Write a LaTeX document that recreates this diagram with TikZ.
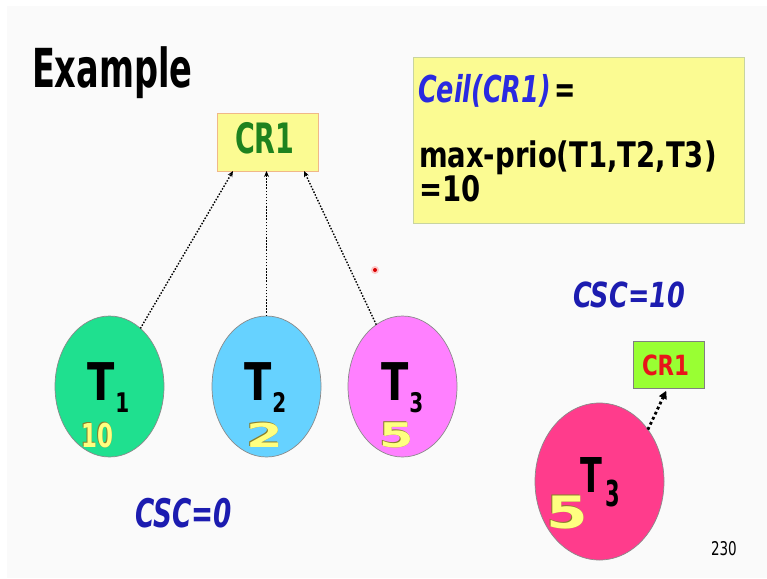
\documentclass[tikz,border=0pt]{standalone}
\usepackage{fontspec}
\setmainfont{DejaVu Sans}
\usepackage{graphicx}
\usetikzlibrary{arrows.meta,calc,shapes.geometric}
\definecolor{slidebg}{HTML}{FAFAFA}
\definecolor{boxyel}{HTML}{FBFB92}
\definecolor{boxorange}{HTML}{F0B888}
\definecolor{boxgray}{HTML}{C8D4A0}
\definecolor{boxgreen}{HTML}{99FF33}
\definecolor{crgreen}{HTML}{1E821E}
\definecolor{crred}{HTML}{E8141A}
\definecolor{ceilblue}{HTML}{2A2AE0}
\definecolor{cscblue}{HTML}{1C1CB0}
\definecolor{tonegreen}{HTML}{1FE08F}
\definecolor{ttwoblue}{HTML}{66D2FF}
\definecolor{tthreepink}{HTML}{FF80FF}
\definecolor{bigpink}{HTML}{FF3C8C}
\definecolor{numyel}{HTML}{FFFF80}
\definecolor{shadowc}{HTML}{8A7E2A}
\definecolor{ellborder}{HTML}{8A8A8A}
% bold text: y-stretch, size, text
\newcommand\tx[3]{\scalebox{1}[#1]{\fontsize{#2}{#2}\selectfont\bfseries #3}}
% bold text: x-stretch, y-stretch, size, text
\newcommand\txx[4]{\scalebox{#1}[#2]{\fontsize{#3}{#3}\selectfont\bfseries #4}}
% regular text
\newcommand\tn[3]{\scalebox{1}[#1]{\fontsize{#2}{#2}\selectfont #3}}
\newcommand\shad[1]{\rlap{\kern0.9pt\raisebox{-0.9pt}{\color{shadowc}#1}}\rlap{\kern-0.5pt\raisebox{0.5pt}{\color{shadowc}#1}}{\color{numyel}#1}}
\tikzset{
  ell/.style={ellipse, draw=ellborder, line width=0.7pt, inner sep=0pt, outer sep=0pt},
  lbl/.style={inner sep=0pt, outer sep=0pt, anchor=base west},
  box/.style={rectangle, inner sep=0pt, outer sep=0pt, line width=0.8pt},
  dep/.style={line width=1.4pt, dash pattern=on 1.5pt off 1.6pt, -{Stealth[length=6pt,width=5pt]}},
  depbig/.style={line width=2.8pt, dash pattern=on 2.8pt off 2.8pt, -{Triangle[length=8pt,width=8pt]}}
}
\begin{document}
\begin{tikzpicture}[x=1pt,y=-1pt]
\useasboundingbox (0,0) rectangle (767,578);
\fill[white] (0,0) rectangle (767,578);
\fill[slidebg] (7,6) rectangle (767,578);

% title
\node[lbl] (title) at (32,87) {\tx{1.6}{33.6}{Example}};

% resource box
\node[box, draw=boxorange, fill=boxyel, minimum width=101pt, minimum height=58pt] (cr) at (267.5,142) {};
\node[lbl, text=crgreen] (crtext) at (235,153) {\tx{1.55}{27}{CR1}};

% ceiling box
\node[box, draw=boxgray, fill=boxyel, minimum width=331pt, minimum height=166pt] (ceil) at (578.5,140) {};
\node[lbl] (l1) at (418,102) {\tx{1.45}{25.5}{\textcolor{ceilblue}{\itshape Ceil(CR1)}\kern4pt =}};
\node[lbl] (l2) at (419,167) {\tx{1.28}{27.5}{max-prio(T1,T2,T3)}};
\node[lbl] (l3) at (419,201) {\tx{1.28}{27.5}{=10}};

% tasks
\node[ell, fill=tonegreen, minimum width=109pt, minimum height=141pt] (T1) at (109.5,386.5) {};
\node[ell, fill=ttwoblue, minimum width=109pt, minimum height=141pt] (T2) at (266.5,386.5) {};
\node[ell, fill=tthreepink, minimum width=109pt, minimum height=141pt] (T3) at (402.5,386.5) {};

\node[lbl] (T1l) at (87,400) {\tx{1.3}{40}{T}\kern1pt\raisebox{-12pt}{\tx{1.35}{20}{1}}};
\node[lbl] (T2l) at (244,400) {\tx{1.3}{40}{T}\kern1pt\raisebox{-12pt}{\tx{1.35}{20}{2}}};
\node[lbl] (T3l) at (381,400) {\tx{1.3}{40}{T}\kern1pt\raisebox{-12pt}{\tx{1.35}{20}{3}}};

\node[lbl] (n1) at (81,447) {\shad{\tx{1.43}{23}{10}}};
\node[lbl] (n2) at (246,447) {\shad{\txx{1.6}{1}{33}{2}}};
\node[lbl] (n3) at (379,447) {\shad{\txx{1.5}{1.03}{33}{5}}};

% dependencies
\draw[dep] (T1.62) -- ($(cr.south)+(-34.5,0)$);
\draw[dep] (T2.north) -- ($(cr.south)+(-1,0)$);
\draw[dep] (T3.113) -- ($(cr.south)+(36.5,0)$);

% pointer dot
\fill[red!35, opacity=0.6] (375,270) circle (4pt);
\fill[red!85!black] (375,270) circle (2pt);

% current system ceiling
\node[lbl, text=cscblue] (csc10) at (573,307) {\tx{1.35}{25.6}{\itshape CSC=10}};
\node[lbl, text=cscblue] (csc0) at (135,527) {\tx{1.5}{26.3}{\itshape CSC=0}};

% right part
\node[box, draw=gray, fill=boxgreen, minimum width=71pt, minimum height=47pt] (gb) at (668.5,364.5) {};
\node[lbl, text=crred] (gbtext) at (642,375) {\tx{1.3}{21.4}{CR1}};
\node[ell, fill=bigpink, minimum width=129pt, minimum height=157pt] (T3b) at (599.5,481.5) {};
\node[lbl] (T3bl) at (580,492) {\tx{1.5}{32}{T}\kern4pt\raisebox{-14pt}{\tx{1.7}{21}{3}}};
\node[lbl] (n3b) at (546,528) {\shad{\txx{1.3}{0.97}{46}{5}}};
\draw[depbig, shorten >=3pt] (T3b.47) -- ($(gb.south)+(-1,0)$);

% page number
\node[lbl] (page) at (711,555) {\tn{1.4}{13.5}{230}};
\end{tikzpicture}
\end{document}
